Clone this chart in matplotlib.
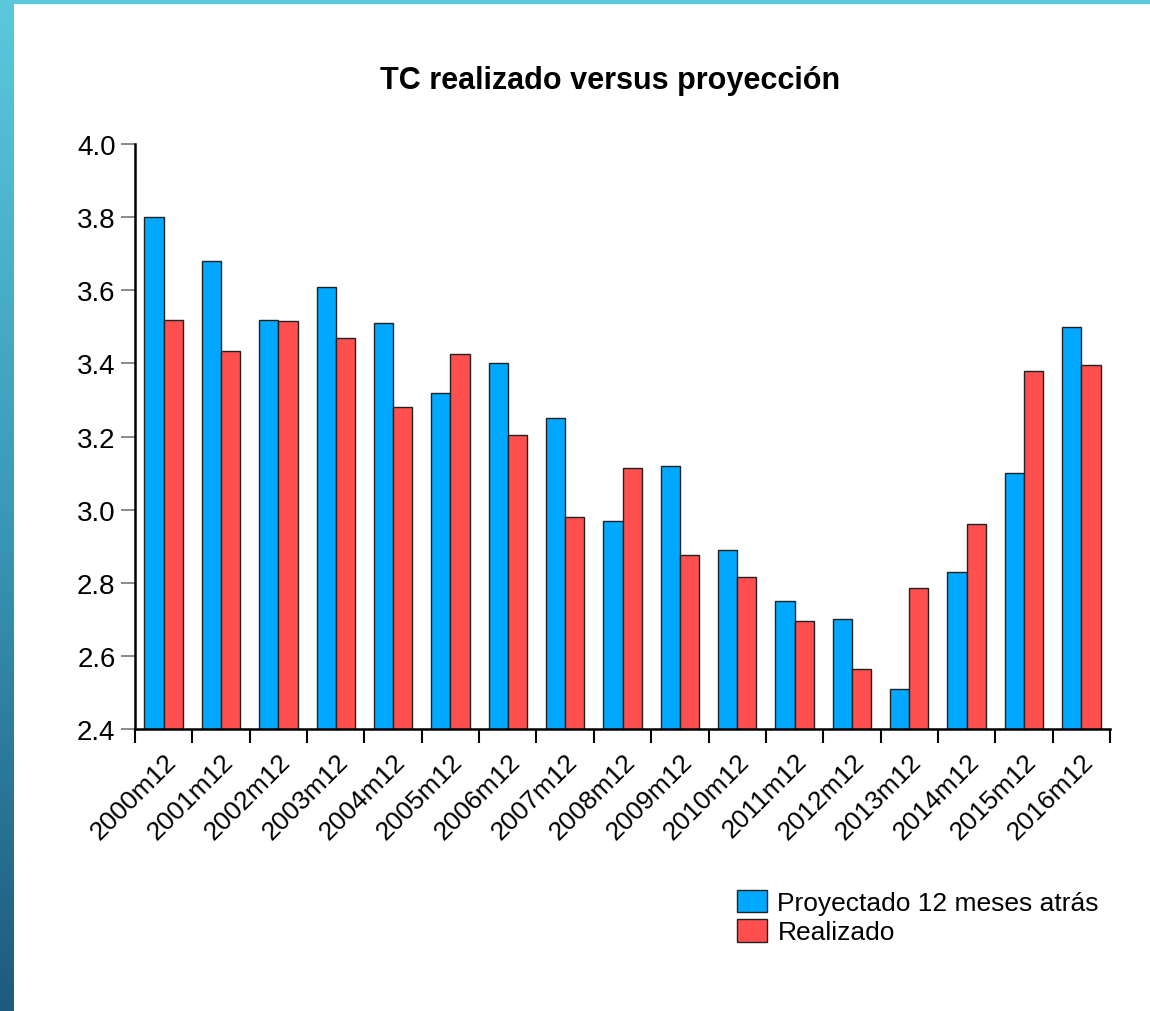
import numpy as np
import matplotlib.pyplot as plt
from matplotlib.patches import Rectangle
from matplotlib.colors import LinearSegmentedColormap

plt.rcParams['font.family'] = ['Liberation Sans', 'DejaVu Sans']

# data
periods = ['2000m12', '2001m12', '2002m12', '2003m12', '2004m12', '2005m12',
           '2006m12', '2007m12', '2008m12', '2009m12', '2010m12', '2011m12',
           '2012m12', '2013m12', '2014m12', '2015m12', '2016m12']
proyectado = [3.80, 3.68, 3.52, 3.61, 3.51, 3.32, 3.40, 3.25, 2.97, 3.12,
              2.89, 2.75, 2.70, 2.51, 2.83, 3.10, 3.50]
realizado = [3.52, 3.435, 3.515, 3.47, 3.28, 3.425, 3.205, 2.98, 3.115, 2.875,
             2.815, 2.695, 2.565, 2.785, 2.96, 3.38, 3.395]
yticks = [2.4, 2.6, 2.8, 3.0, 3.2, 3.4, 3.6, 3.8, 4.0]

BLUE = '#00a8ff'
RED = '#ff4f4f'

fig = plt.figure(figsize=(11.5, 10.12), dpi=100)

# decorative frame: gradient strip on the left, thin cyan line on top
strip = fig.add_axes([0, 0, 14 / 1150, 1])
grad = np.linspace(0, 1, 256).reshape(-1, 1)
cmap = LinearSegmentedColormap.from_list('frame', ['#1e5a7c', '#3a9ab8', '#5cc8dc'])
strip.imshow(grad, aspect='auto', cmap=cmap, origin='lower', extent=[0, 1, 0, 1])
strip.axis('off')
fig.patches.append(Rectangle((14 / 1150, 1 - 4 / 1012), 1, 4 / 1012,
                             transform=fig.transFigure, color='#5cc8dc', zorder=0))

ax = fig.add_axes([135 / 1150, 1 - 730 / 1012, 975 / 1150, 585 / 1012])
x = np.arange(len(periods))
w = 0.335
ax.bar(x - w / 2, proyectado, w, color=BLUE, edgecolor='#222222', linewidth=1,
       label='Proyectado 12 meses atrás')
ax.bar(x + w / 2, realizado, w, color=RED, edgecolor='#222222', linewidth=1,
       label='Realizado')

ax.set_xlim(-0.5, len(periods) - 0.5)
ax.set_ylim(2.4, 4.0)
ax.set_yticks(yticks)
ax.set_yticklabels([f'{v:.1f}' for v in yticks], fontsize=20)
ax.tick_params(axis='y', length=10, width=1.2, color='#777777', pad=4)

# boundary ticks (unlabelled) and centred labels
ax.set_xticks(np.arange(len(periods) + 1) - 0.5)
ax.set_xticklabels([])
ax.tick_params(axis='x', which='major', length=10, width=1.5, direction='out')
ax.set_xticks(x, minor=True)
ax.set_xticklabels(periods, minor=True, rotation=45, ha='right',
                   rotation_mode='anchor', fontsize=19)
ax.tick_params(axis='x', which='minor', length=0, pad=14)

for s in ['top', 'right']:
    ax.spines[s].set_visible(False)
ax.spines['left'].set_linewidth(1.8)
ax.spines['bottom'].set_linewidth(1.8)

fig.text(610 / 1150, 1 - 81 / 1012, 'TC realizado versus proyección',
         ha='center', va='center', fontsize=22, fontweight='bold')

fig.legend(loc='upper left', bbox_to_anchor=(726 / 1150, 1 - 880 / 1012),
           frameon=False, fontsize=19, handlelength=1.15, handleheight=0.95,
           handletextpad=0.4, labelspacing=0.15, borderaxespad=0)

fig.savefig('out.png', dpi=100)
